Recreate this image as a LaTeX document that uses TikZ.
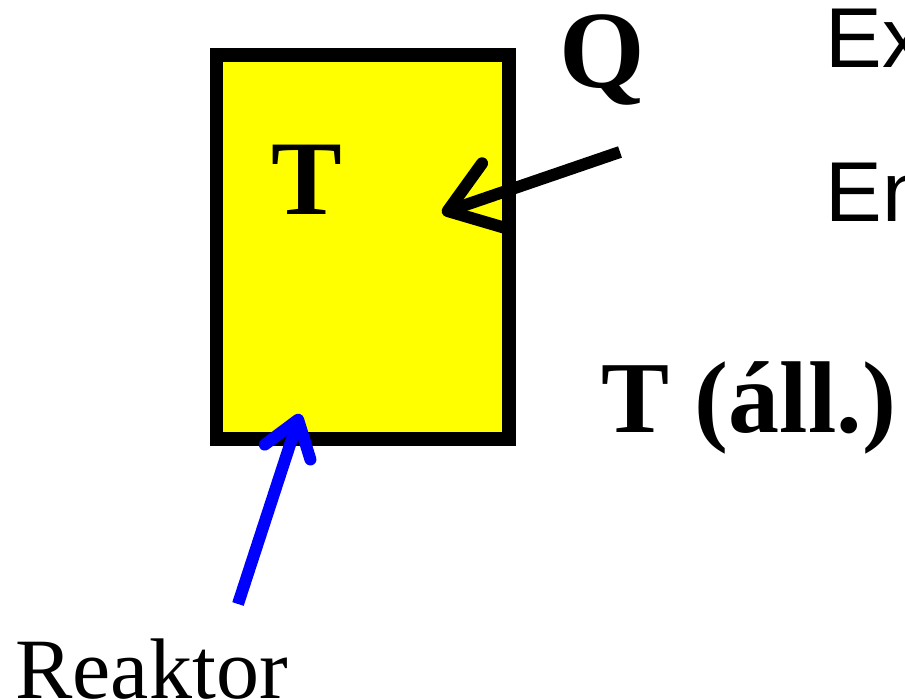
\documentclass[tikz,border=0pt]{standalone}
\usepackage{fontspec}
\setmainfont{Liberation Serif}
\newfontfamily\arialfont{Liberation Sans}
\usetikzlibrary{arrows.meta}
\definecolor{boxyellow}{RGB}{255,255,0}
\tikzset{
  boldlabel/.style={font=\fontsize{53}{60}\selectfont\bfseries, inner sep=0pt, anchor=base west},
  sidelabel/.style={font=\fontsize{42.5}{48}\selectfont\arialfont, inner sep=0pt, anchor=base west},
  heatarrow/.style={line width=6pt, -{Straight Barb[length=24pt,width=34pt,round]}},
  feedarrow/.style={line width=6pt, blue, -{Straight Barb[length=17pt,width=24pt,round]}}
}
\begin{document}
\begin{tikzpicture}[x=0.5pt,y=-0.5pt]
\useasboundingbox (0,0) rectangle (905,699);
\clip (0,0) rectangle (905,699);
% Draw the reactor box
\draw[line width=6.75pt, fill=boxyellow] (216.5,55) rectangle (509,439);
\node[boldlabel] (temp) at (271,215) {T};
% Heat flow into the box
\node[boldlabel, font=\fontsize{55}{60}\selectfont\bfseries] (heat) at (559,88) {Q};
\coordinate (qstart) at (620,152);
\coordinate (qend) at (442,213);
\draw[heatarrow] (qstart) -- (qend);
% Reactor label and pointer
\node[boldlabel, font=\fontsize{43}{48}\selectfont] (reaktor) at (15,698) {Reaktor};
\coordinate (rstart) at (238,604);
\coordinate (rend) at (300,414);
\draw[feedarrow] (rstart) -- (rend);
% Texts on the right
\node[boldlabel, font=\fontsize{51}{56}\selectfont\bfseries] (tall) at (601,433) {T (áll.)};
\node[sidelabel] (exo) at (825,68) {Ex};
\node[sidelabel] (endo) at (825,222) {En};
\end{tikzpicture}
\end{document}
